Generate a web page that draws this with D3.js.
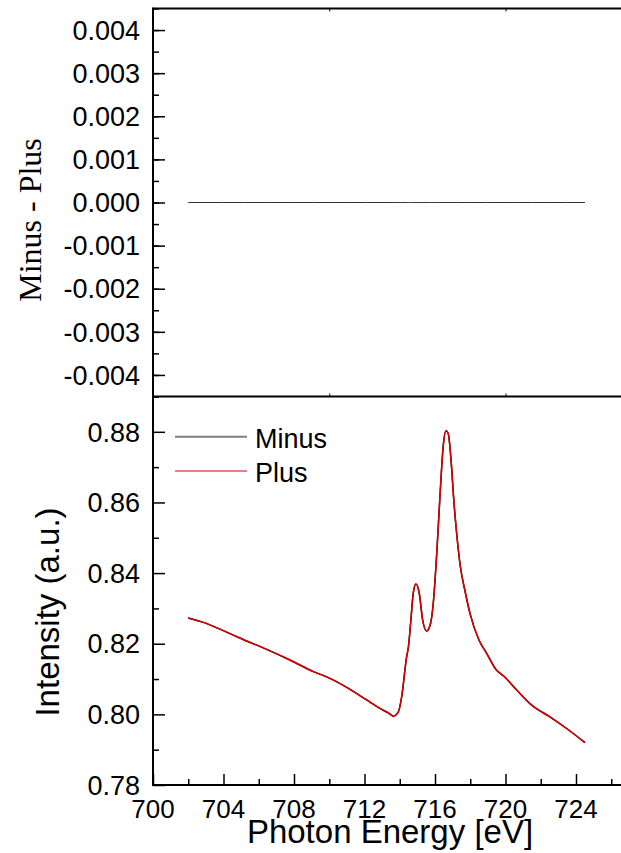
<!DOCTYPE html>
<html>
<head>
<meta charset="utf-8">
<script src="https://cdn.jsdelivr.net/npm/d3@7"></script>
<style>
html,body{margin:0;padding:0;background:#fff;overflow:hidden;}
svg{display:block;}
text{font-family:"Liberation Sans",Arial,sans-serif;fill:#000;}
</style>
</head>
<body>
<svg id="chart" width="621" height="853"></svg>
<script>
// ---- data ----
const energy = [702.0,702.95,703.99,705.12,706.45,707.77,709.1,710.04,711.18,712.12,712.88,713.45,713.63,713.92,714.11,714.39,714.49,714.62,714.77,714.92,715.11,715.30,715.53,715.75,715.90,716.10,716.28,716.47,716.62,716.75,716.91,717.08,717.23,717.42,717.70,718.0,718.5,718.93,719.46,719.97,720.64,721.49,722.52,723.47,724.51];
const plus   = [0.8273,0.8259,0.8237,0.8212,0.8184,0.8154,0.8121,0.8102,0.8071,0.8041,0.8017,0.8001,0.7995,0.8007,0.8050,0.8163,0.8190,0.8260,0.8345,0.8369,0.8342,0.8267,0.8236,0.8258,0.8314,0.8456,0.8616,0.8762,0.8803,0.8795,0.8720,0.8597,0.8512,0.8425,0.8350,0.8283,0.8210,0.8173,0.8127,0.8105,0.8069,0.8026,0.7993,0.7960,0.7920];
const minus  = [0.8273,0.8259,0.8237,0.8212,0.8184,0.8154,0.8121,0.8102,0.8071,0.8041,0.8017,0.8001,0.7995,0.8007,0.8050,0.8163,0.8190,0.8260,0.8345,0.8369,0.8342,0.8267,0.8236,0.8258,0.8314,0.8456,0.8616,0.8762,0.8803,0.8795,0.8720,0.8597,0.8512,0.8425,0.8350,0.8283,0.8210,0.8173,0.8127,0.8105,0.8069,0.8026,0.7993,0.7960,0.7920];
const seriesNames = ["Minus","Plus"];
const xTicks = [700,704,708,712,716,720,724];
const yTopTicks = [-0.004,-0.003,-0.002,-0.001,0,0.001,0.002,0.003,0.004];
const yBotTicks = [0.78,0.80,0.82,0.84,0.86,0.88];

// ---- layout ----
const svg = d3.select("#chart");
const left = 153, right = 646.5;
const topY0 = 8.5, sepY = 396.5, botY = 785;

const x = d3.scaleLinear().domain([700,728]).range([left,right]);
const yTop = d3.scaleLinear().domain([-0.0045,0.0045]).range([sepY,topY0]);
const yBot = d3.scaleLinear().domain([0.78,0.89]).range([botY,sepY]);

const diff = energy.map((e,i)=>({e, v: minus[i]-plus[i]}));
const plusData = energy.map((e,i)=>({e, v: plus[i]}));
const minusData = energy.map((e,i)=>({e, v: minus[i]}));

const fmt3 = d3.format(".3f");
const fmt2 = d3.format(".2f");

// ---- top panel axes ----
const gTopL = svg.append("g").attr("transform",`translate(${left},0)`)
  .call(d3.axisRight(yTop).tickValues(d3.range(-0.0045,0.00451,0.0005)).tickSize(6).tickFormat(""));
gTopL.selectAll(".tick line").attr("stroke-width",1.5);
gTopL.select(".domain").remove();
const gTopL2 = svg.append("g").attr("transform",`translate(${left},0)`)
  .call(d3.axisRight(yTop).tickValues(yTopTicks).tickSize(12).tickFormat(""));
gTopL2.selectAll(".tick line").attr("stroke-width",1.5);
gTopL2.select(".domain").remove();
svg.append("g").selectAll("text").data(yTopTicks).join("text")
  .attr("x",140).attr("y",d=>yTop(d)).attr("dy","0.36em")
  .attr("text-anchor","end").attr("font-size",27)
  .text(d=>fmt3(d).replace("−","-"));

// top border ticks (small, every 10 eV)
const gTopT = svg.append("g").attr("transform",`translate(0,${topY0})`)
  .call(d3.axisBottom(x).tickValues([710,720]).tickSize(3).tickFormat(""));
gTopT.select(".domain").remove();
const gSep = svg.append("g").attr("transform",`translate(0,${sepY})`)
  .call(d3.axisTop(x).tickValues([710,720]).tickSize(3).tickFormat(""));
gSep.select(".domain").remove();

// ---- bottom panel axes ----
const gBotLm = svg.append("g").attr("transform",`translate(${left},0)`)
  .call(d3.axisRight(yBot).tickValues(d3.range(0.79,0.891,0.02)).tickSize(6).tickFormat(""));
gBotLm.select(".domain").remove();
gBotLm.selectAll(".tick line").attr("stroke-width",1.5);
const gBotL = svg.append("g").attr("transform",`translate(${left},0)`)
  .call(d3.axisRight(yBot).tickValues(yBotTicks).tickSize(12).tickFormat(""));
gBotL.select(".domain").remove();
gBotL.selectAll(".tick line").attr("stroke-width",1.5);
svg.append("g").selectAll("text").data(yBotTicks).join("text")
  .attr("x",140).attr("y",d=>yBot(d)).attr("dy","0.36em")
  .attr("text-anchor","end").attr("font-size",27)
  .text(d=>fmt2(d));

const gXm = svg.append("g").attr("transform",`translate(0,${botY})`)
  .call(d3.axisTop(x).tickValues(d3.range(702,728.1,4)).tickSize(6).tickFormat(""));
gXm.select(".domain").remove();
gXm.selectAll(".tick line").attr("stroke-width",1.5);
const gX = svg.append("g").attr("transform",`translate(0,${botY})`)
  .call(d3.axisTop(x).tickValues(xTicks.concat([728])).tickSize(11).tickFormat(""));
gX.select(".domain").remove();
gX.selectAll(".tick line").attr("stroke-width",1.5);
svg.append("g").selectAll("text").data(xTicks).join("text")
  .attr("x",d=>x(d)).attr("y",818)
  .attr("text-anchor","middle").attr("font-size",26)
  .text(d=>d);

// frame lines
svg.append("line").attr("x1",left).attr("x2",right).attr("y1",topY0).attr("y2",topY0).attr("stroke","#000").attr("stroke-width",2);
svg.append("line").attr("x1",left).attr("x2",right).attr("y1",sepY).attr("y2",sepY).attr("stroke","#000").attr("stroke-width",2);
svg.append("line").attr("x1",left).attr("x2",right).attr("y1",botY).attr("y2",botY).attr("stroke","#000").attr("stroke-width",2);
svg.append("line").attr("x1",left).attr("x2",left).attr("y1",topY0-1).attr("y2",botY+1).attr("stroke","#000").attr("stroke-width",2);

// ---- data lines ----
svg.append("path").datum(diff)
  .attr("fill","none").attr("stroke","#333").attr("stroke-width",1)
  .attr("d",d3.line().x(d=>x(d.e)).y(d=>yTop(d.v)));

const lineB = d3.line().x(d=>x(d.e)).y(d=>yBot(d.v)).curve(d3.curveMonotoneX);
svg.append("path").datum(minusData)
  .attr("fill","none").attr("stroke","#000").attr("stroke-width",1.5).attr("d",lineB);
svg.append("path").datum(plusData)
  .attr("fill","none").attr("stroke","#dd0000").attr("stroke-width",1.5).attr("d",lineB);

// ---- legend ----
const legColors = ["#808080","#dd0000"];
const legW = [2,1.2];
const leg = svg.append("g");
seriesNames.forEach((n,i)=>{
  const yy = 436.7 + i*34.3;
  leg.append("line").attr("x1",175).attr("x2",247).attr("y1",yy).attr("y2",yy)
    .attr("stroke",legColors[i]).attr("stroke-width",legW[i]);
  leg.append("text").attr("x",255).attr("y",yy+11).attr("font-size",27).text(n);
});

// ---- axis titles ----
svg.append("text").attr("transform","translate(41,220) rotate(-90)")
  .attr("text-anchor","middle").attr("font-size",32)
  .style("font-family","'Liberation Serif','Times New Roman',serif")
  .text("Minus - Plus");
svg.append("text").attr("transform","translate(59,612) rotate(-90)")
  .attr("text-anchor","middle").attr("font-size",33)
  .text("Intensity (a.u.)");
svg.append("text").attr("x",390).attr("y",843)
  .attr("text-anchor","middle").attr("font-size",33)
  .text("Photon Energy [eV]");
</script>
</body>
</html>
